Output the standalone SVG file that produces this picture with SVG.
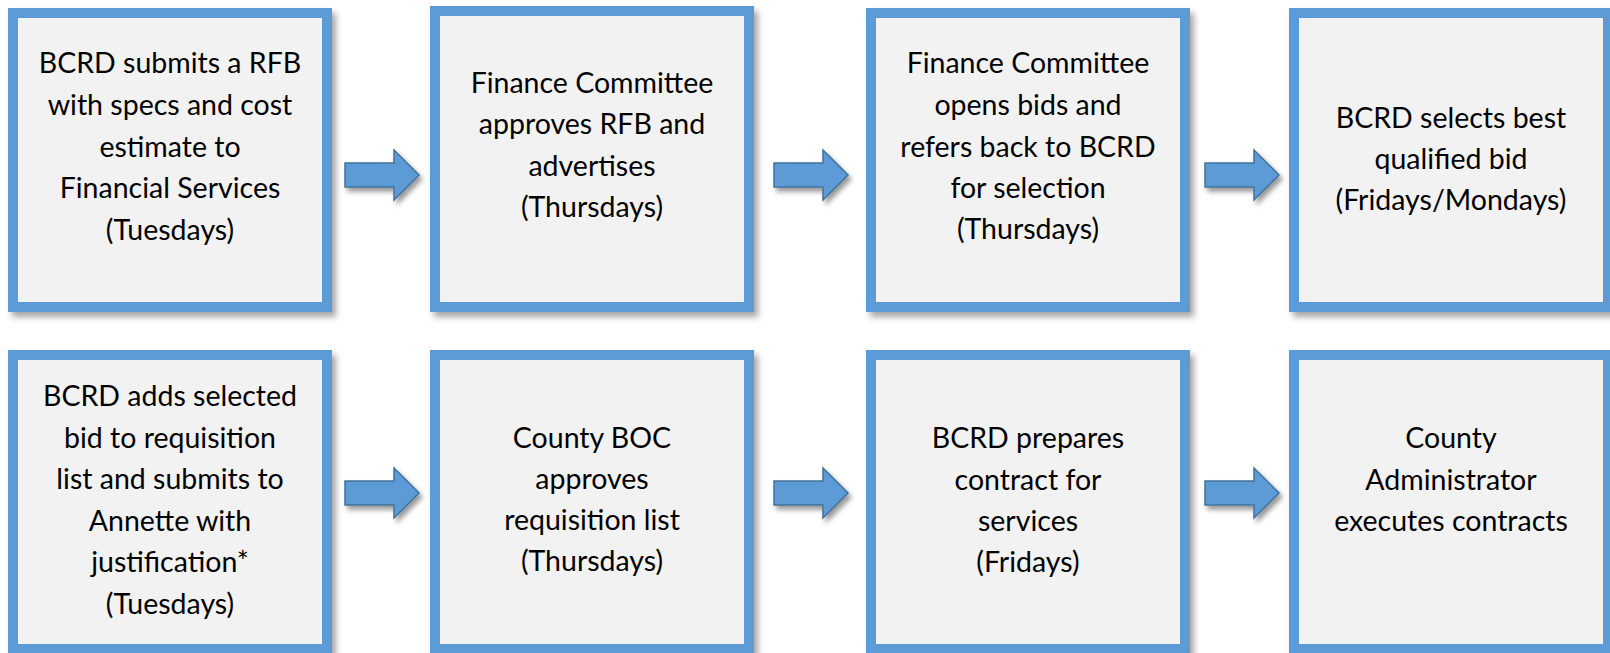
<svg xmlns="http://www.w3.org/2000/svg" width="1610" height="653" viewBox="0 0 1610 653">
<style>
.box{fill:#f2f2f2;stroke:#5b9bd5;stroke-width:10;filter:url(#sh)}
.arr{fill:#5b9bd5;stroke:#41719c;stroke-width:1.5;stroke-linejoin:miter;filter:url(#sh2)}
text{font-family:Lato,"Liberation Sans",sans-serif;font-size:28.5px;fill:#000;text-anchor:middle}
</style>
<defs>
<filter id="sh" x="-10%" y="-10%" width="130%" height="130%">
<feGaussianBlur in="SourceAlpha" stdDeviation="3"/>
<feOffset dx="4" dy="5" result="b"/>
<feFlood flood-color="#000" flood-opacity="0.35"/>
<feComposite in2="b" operator="in"/>
<feMerge><feMergeNode/><feMergeNode in="SourceGraphic"/></feMerge>
</filter>
<filter id="sh2" x="-20%" y="-20%" width="150%" height="160%">
<feGaussianBlur in="SourceAlpha" stdDeviation="2.5"/>
<feOffset dx="3" dy="4" result="b"/>
<feFlood flood-color="#000" flood-opacity="0.4"/>
<feComposite in2="b" operator="in"/>
<feMerge><feMergeNode/><feMergeNode in="SourceGraphic"/></feMerge>
</filter>
<path id="ar" d="M0,13 H49 V0 L74,25 L49,50 V37 H0 Z"/>
</defs>
<g id="connectors">
<use href="#ar" class="arr" x="345" y="150"/>
<use href="#ar" class="arr" x="774" y="150"/>
<use href="#ar" class="arr" x="1205" y="150"/>
<use href="#ar" class="arr" x="345" y="468"/>
<use href="#ar" class="arr" x="774" y="468"/>
<use href="#ar" class="arr" x="1205" y="468"/>
</g>
<g id="n1"><rect class="box" x="13" y="13" width="314" height="294"/>
<text x="170"><tspan x="170" y="73">BCRD submits a RFB</tspan><tspan x="170" y="115">with specs and cost</tspan><tspan x="170" y="157">estimate to</tspan><tspan x="170" y="198">Financial Services</tspan><tspan x="170" y="240">(Tuesdays)</tspan></text></g>
<g id="n2"><rect class="box" x="435" y="11" width="314" height="296"/>
<text><tspan x="592" y="93">Finance Committee</tspan><tspan x="592" y="134">approves RFB and</tspan><tspan x="592" y="176">advertises</tspan><tspan x="592" y="217">(Thursdays)</tspan></text></g>
<g id="n3"><rect class="box" x="871" y="13" width="314" height="294"/>
<text><tspan x="1028" y="73">Finance Committee</tspan><tspan x="1028" y="115">opens bids and</tspan><tspan x="1028" y="157">refers back to BCRD</tspan><tspan x="1028" y="198">for selection</tspan><tspan x="1028" y="239">(Thursdays)</tspan></text></g>
<g id="n4"><rect class="box" x="1294" y="13" width="314" height="294"/>
<text><tspan x="1451" y="128">BCRD selects best</tspan><tspan x="1451" y="169">qualified bid</tspan><tspan x="1451" y="210">(Fridays/Mondays)</tspan></text></g>
<g id="n5"><rect class="box" x="13" y="355" width="314" height="294"/>
<text><tspan x="170" y="406">BCRD adds selected</tspan><tspan x="170" y="448">bid to requisition</tspan><tspan x="170" y="489">list and submits to</tspan><tspan x="170" y="531">Annette with</tspan><tspan x="170" y="572">justification*</tspan><tspan x="170" y="614">(Tuesdays)</tspan></text></g>
<g id="n6"><rect class="box" x="435" y="355" width="314" height="294"/>
<text><tspan x="592" y="448">County BOC</tspan><tspan x="592" y="489">approves</tspan><tspan x="592" y="530">requisition list</tspan><tspan x="592" y="571">(Thursdays)</tspan></text></g>
<g id="n7"><rect class="box" x="871" y="355" width="314" height="294"/>
<text><tspan x="1028" y="448">BCRD prepares</tspan><tspan x="1028" y="490">contract for</tspan><tspan x="1028" y="531">services</tspan><tspan x="1028" y="572">(Fridays)</tspan></text></g>
<g id="n8"><rect class="box" x="1294" y="355" width="314" height="294"/>
<text><tspan x="1451" y="448">County</tspan><tspan x="1451" y="490">Administrator</tspan><tspan x="1451" y="531">executes contracts</tspan></text></g>
</svg>
